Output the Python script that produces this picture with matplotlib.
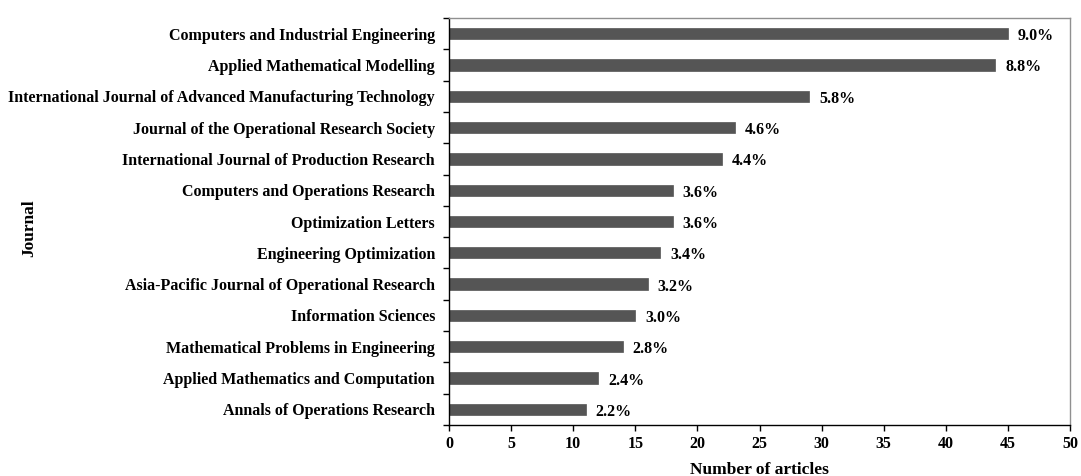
import matplotlib
matplotlib.use("Agg")
import matplotlib.pyplot as plt

journals = [
    "Computers and Industrial Engineering",
    "Applied Mathematical Modelling",
    "International Journal of Advanced Manufacturing Technology",
    "Journal of the Operational Research Society",
    "International Journal of Production Research",
    "Computers and Operations Research",
    "Optimization Letters",
    "Engineering Optimization",
    "Asia-Pacific Journal of Operational Research",
    "Information Sciences",
    "Mathematical Problems in Engineering",
    "Applied Mathematics and Computation",
    "Annals of Operations Research",
]
articles = [45, 44, 29, 23, 22, 18, 18, 17, 16, 15, 14, 12, 11]
percents = ["9.0%", "8.8%", "5.8%", "4.6%", "4.4%", "3.6%", "3.6%", "3.4%",
            "3.2%", "3.0%", "2.8%", "2.4%", "2.2%"]
xticks = [0, 5, 10, 15, 20, 25, 30, 35, 40, 45, 50]

plt.rcParams['font.family'] = ['Liberation Serif', 'DejaVu Serif']
plt.rcParams['font.weight'] = 'bold'

fig = plt.figure(figsize=(10.81, 4.76), dpi=100)
ax = fig.add_axes([449/1081, 1-425/476, (1070-449)/1081, (425-18)/476])

n = len(journals)
ypos = list(range(n))
ax.barh(ypos, articles, height=0.36, color='#555555', edgecolor='#555555', linewidth=0.5)
ax.set_ylim(n - 0.5, -0.5)
ax.set_xlim(0, 50)

for y, v, p in zip(ypos, articles, percents):
    ax.text(v + 0.8, y + 0.08, p, va='center', ha='left', fontsize=11.5, fontweight='bold')

ax.set_yticks(ypos)
ax.set_yticklabels(journals, fontsize=11.5, fontweight='bold')
ax.tick_params(axis='y', length=0, pad=10)
ax.set_yticks([i - 0.5 for i in range(n + 1)], minor=True)
ax.tick_params(axis='y', which='minor', length=4, width=1, direction='out')

ax.set_xticks(xticks)
ax.set_xticklabels([str(t) for t in xticks], fontsize=11.5, fontweight='bold')
ax.tick_params(axis='x', length=4, width=1, direction='out', pad=4)

for s in ['top', 'right']:
    ax.spines[s].set_color('#909090')
    ax.spines[s].set_linewidth(1)
for s in ['left', 'bottom']:
    ax.spines[s].set_color('black')
    ax.spines[s].set_linewidth(1)

ax.set_xlabel("Number of articles", fontsize=12.5, fontweight='bold', labelpad=7)
fig.text(29/1081, 1-228/476, "Journal", rotation=90, ha='center', va='center',
         fontsize=12.5, fontweight='bold')

fig.savefig("out.png", dpi=100)
